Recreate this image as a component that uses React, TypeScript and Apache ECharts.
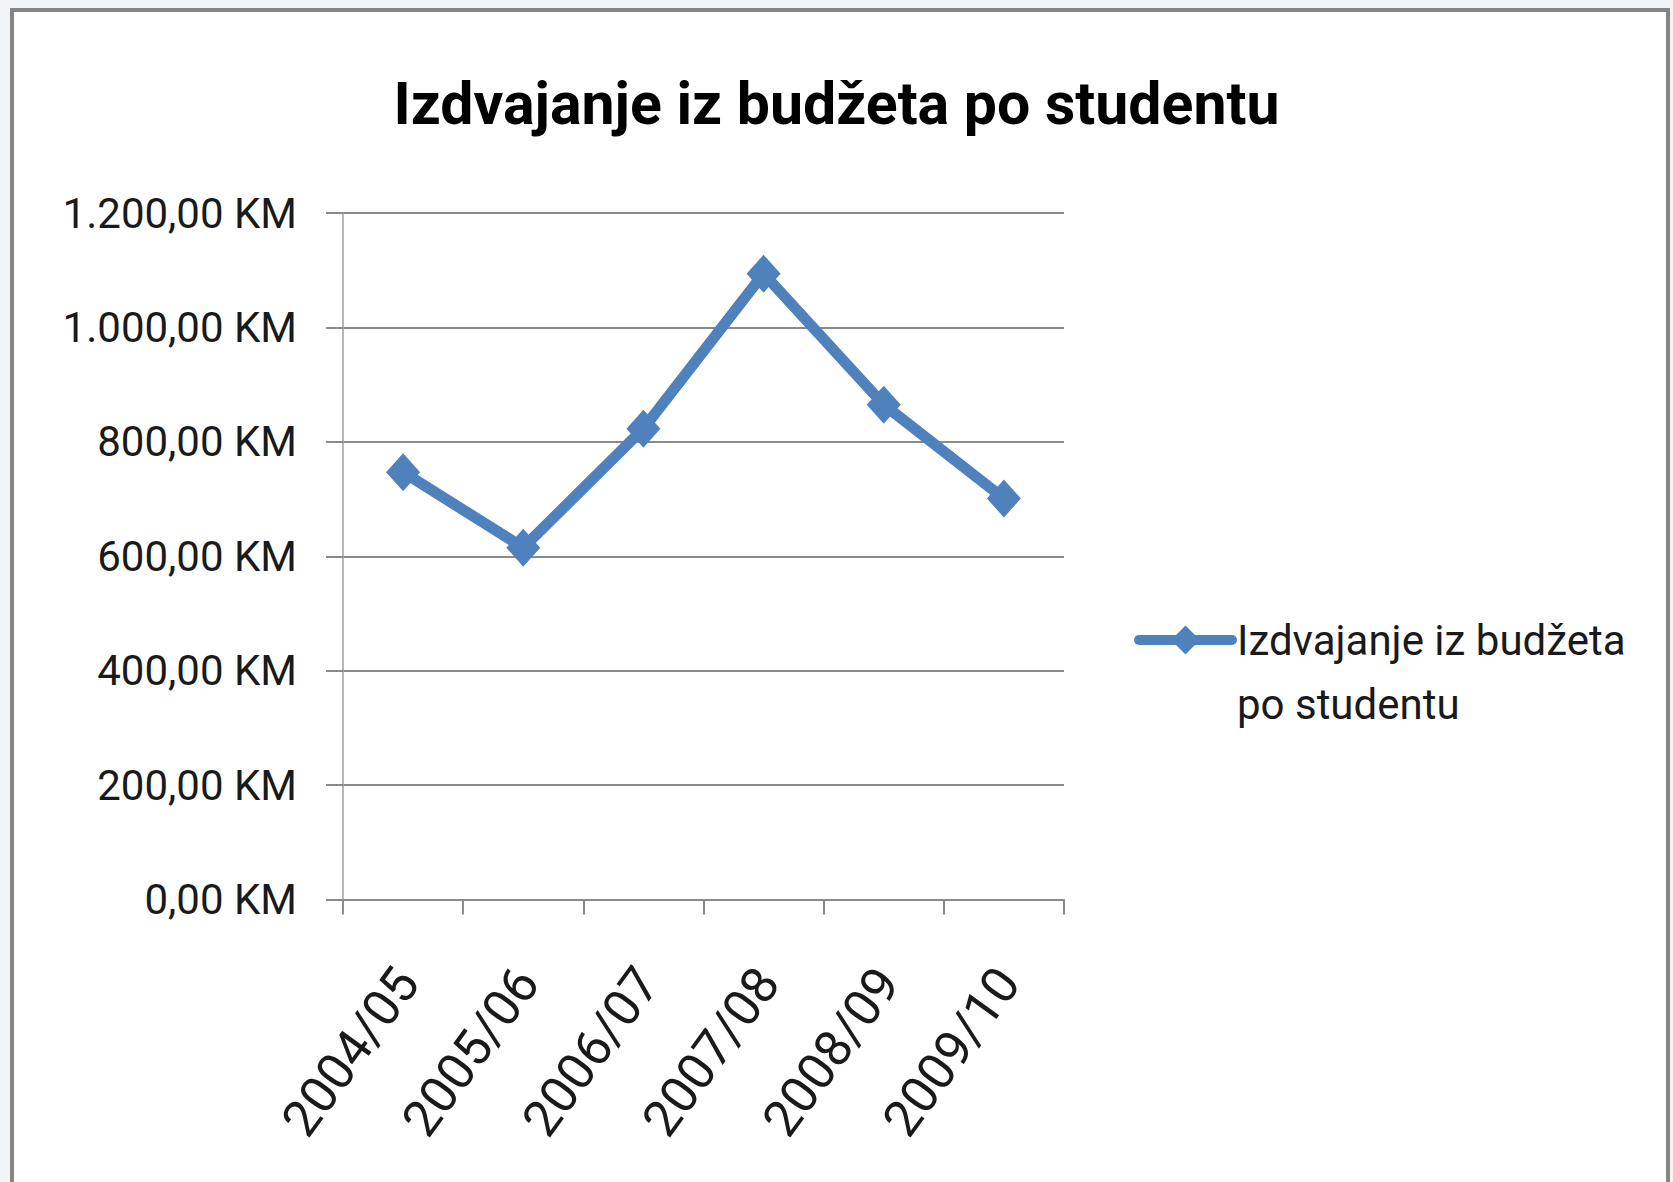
import React, { useEffect, useRef } from "react";
import * as echarts from "echarts";

const TITLE = "Izdvajanje iz budžeta po studentu";
const SERIES_NAME = "Izdvajanje iz budžeta po studentu";
const LEGEND_LABEL = " \nIzdvajanje iz budžeta\npo studentu";
const categories = ["2004/05", "2005/06", "2006/07", "2007/08", "2008/09", "2009/10"];
const values = [747, 615, 823, 1094, 865, 701];
const yTicks = [0, 200, 400, 600, 800, 1000, 1200];
const yTickLabels = ["0,00 KM", "200,00 KM", "400,00 KM", "600,00 KM", "800,00 KM", "1.000,00 KM", "1.200,00 KM"];

const BLUE = "#4F81BD";
const GRID = "#8a8a8a";
const FONT = "Roboto";

export default function App() {
  const ref = useRef<HTMLDivElement>(null);
  useEffect(() => {
    document.body.style.margin = "0";
    const chart = echarts.init(ref.current!, null, { renderer: "svg" });
    chart.setOption({
      animation: false,
      backgroundColor: "#f1f5f8",
      graphic: [
        {
          type: "rect",
          z: -10,
          silent: true,
          shape: { x: 12, y: 10, width: 1656, height: 1200 },
          style: { fill: "#ffffff", stroke: "#858585", lineWidth: 4 },
        },
      ],
      title: {
        text: TITLE,
        left: "center",
        top: 74,
        padding: 0,
        textStyle: { fontFamily: FONT, fontWeight: "bold", fontSize: 59, color: "#000" },
      },
      legend: {
        left: 1134,
        top: 544,
        padding: 0,
        itemWidth: 93,
        itemHeight: 36,
        itemGap: 0,
        formatter: () => LEGEND_LABEL,
        lineStyle: { width: 10, cap: "round" },
        textStyle: {
          fontFamily: FONT,
          fontSize: 42,
          color: "#1a1a1a",
          lineHeight: 64,
        },
      },
      grid: { left: 343, right: 609, top: 213, bottom: 282.5, containLabel: false },
      xAxis: {
        type: "category",
        data: categories,
        boundaryGap: true,
        axisLine: { show: true, lineStyle: { color: GRID, width: 2 } },
        axisTick: { show: true, length: 15, lineStyle: { color: GRID, width: 2 } },
        axisLabel: {
          rotate: 54,
          margin: 71,
          verticalAlign: "top",
          lineHeight: 10,
          fontFamily: FONT,
          fontSize: 51,
          color: "#1a1a1a",
        },
      },
      yAxis: {
        type: "value",
        min: 0,
        max: 1200,
        interval: 200,
        axisLine: { show: true, lineStyle: { color: "#a0a0a0", width: 1.5 } },
        axisTick: { show: true, length: 17, lineStyle: { color: GRID, width: 2 } },
        splitLine: { show: true, lineStyle: { color: GRID, width: 2 } },
        axisLabel: {
          margin: 46,
          fontFamily: FONT,
          fontSize: 42,
          color: "#1a1a1a",
          formatter: (v: number) => {
            const i = yTicks.indexOf(v);
            return i >= 0 ? yTickLabels[i] : String(v);
          },
        },
      },
      series: [
        {
          name: SERIES_NAME,
          type: "line",
          data: values,
          symbol: "diamond",
          symbolSize: [34, 38],
          lineStyle: { color: BLUE, width: 11 },
          itemStyle: { color: BLUE },
        },
      ],
    });
    return () => chart.dispose();
  }, []);
  return <div ref={ref} style={{ width: 1673, height: 1182 }} />;
}
